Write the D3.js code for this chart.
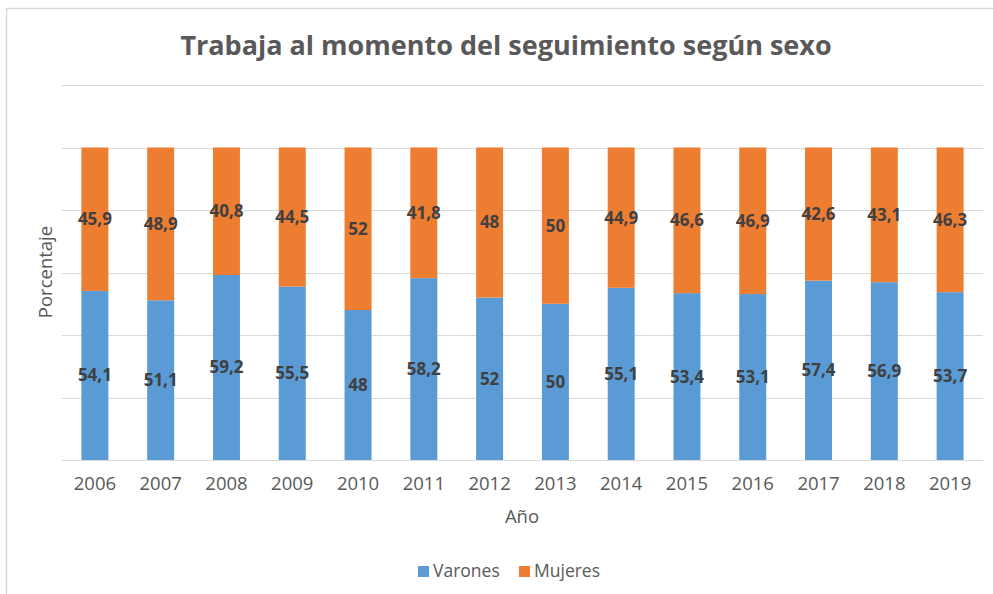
<!DOCTYPE html>
<html>
<head>
<meta charset="utf-8">
<script src="https://cdn.jsdelivr.net/npm/d3@7"></script>
<style>
  body { margin: 0; background: #fff; font-family: "Open Sans", sans-serif; }
</style>
</head>
<body>
<div id="chart"></div>
<script>
var years = ["2006", "2007", "2008", "2009", "2010", "2011", "2012", "2013", "2014", "2015", "2016", "2017", "2018", "2019"];
var varones = [54.1, 51.1, 59.2, 55.5, 48, 58.2, 52, 50, 55.1, 53.4, 53.1, 57.4, 56.9, 53.7];
var mujeres = [45.9, 48.9, 40.8, 44.5, 52, 41.8, 48, 50, 44.9, 46.6, 46.9, 42.6, 43.1, 46.3];
var seriesNames = ["Varones", "Mujeres"];
var gridTicks = [0, 20, 40, 60, 80, 100, 120];

var W = 993, H = 594;
var colors = ["#5b9bd5", "#ed7d31"];

var svg = d3.select("#chart").append("svg")
  .attr("width", W)
  .attr("height", H);

// chart frame
svg.append("rect")
  .attr("x", 6.5).attr("y", 8.5)
  .attr("width", W + 10).attr("height", H + 10)
  .attr("fill", "#fff")
  .attr("stroke", "#d9d9d9")
  .attr("stroke-width", 1.5);

var x = d3.scaleBand().domain(years).range([62, 983]).paddingInner(0.59).paddingOuter(0.295);
var y = d3.scaleLinear().domain([0, 120]).range([460, 85]);

// gridlines
svg.append("g")
  .selectAll("line")
  .data(gridTicks)
  .enter().append("line")
    .attr("x1", 62).attr("x2", 983)
    .attr("y1", function(d) { return Math.round(y(d)) + 0.5; })
    .attr("y2", function(d) { return Math.round(y(d)) + 0.5; })
    .attr("stroke", "#d9d9d9")
    .attr("stroke-width", 1);

var rows = years.map(function(yr, i) {
  return { year: yr, Varones: varones[i], Mujeres: mujeres[i] };
});
var stacked = d3.stack().keys(seriesNames)(rows);

var layer = svg.selectAll(".layer")
    .data(stacked)
  .enter().append("g")
    .attr("class", "layer")
    .attr("fill", function(d, i) { return colors[i]; });

layer.selectAll("rect")
    .data(function(d) { return d; })
  .enter().append("rect")
    .attr("x", function(d) { return x(d.data.year); })
    .attr("width", x.bandwidth())
    .attr("y", function(d) { return y(d[1]); })
    .attr("height", function(d) { return y(d[0]) - y(d[1]); });

// data labels
layer.selectAll("text")
    .data(function(d) { return d; })
  .enter().append("text")
    .attr("x", function(d) { return x(d.data.year) + x.bandwidth() / 2; })
    .attr("y", function(d) { return y((d[0] + d[1]) / 2); })
    .attr("dy", "0.35em")
    .attr("text-anchor", "middle")
    .attr("fill", "#404040")
    .style("font-size", "17px")
    .style("font-weight", "bold")
    .text(function(d) { return String(+(d[1] - d[0]).toFixed(1)).replace(".", ","); });

// x axis
var xAxis = svg.append("g")
  .attr("transform", "translate(0,460)")
  .call(d3.axisBottom(x).tickSize(0).tickPadding(17));
xAxis.select(".domain").remove();
xAxis.selectAll("text")
  .attr("fill", "#595959")
  .style("font-size", "18.5px")
  .style("font-family", "'Open Sans', sans-serif");

svg.append("text")
  .attr("x", 522).attr("y", 523)
  .attr("text-anchor", "middle")
  .attr("fill", "#595959")
  .style("font-size", "18.5px")
  .text("Año");

svg.append("text")
  .attr("transform", "translate(52,272) rotate(-90)")
  .attr("text-anchor", "middle")
  .attr("fill", "#595959")
  .style("font-size", "18.5px")
  .text("Porcentaje");

svg.append("text")
  .attr("x", 506).attr("y", 55)
  .attr("text-anchor", "middle")
  .attr("fill", "#595959")
  .style("font-size", "27px")
  .style("font-weight", "bold")
  .text("Trabaja al momento del seguimiento según sexo");

// legend
var legend = svg.selectAll(".legend")
    .data(seriesNames)
  .enter().append("g")
    .attr("class", "legend")
    .attr("transform", function(d, i) { return "translate(" + (418 + i * 101) + ",566)"; });

legend.append("rect")
  .attr("width", 11).attr("height", 11)
  .attr("fill", function(d, i) { return colors[i]; });

legend.append("text")
  .attr("x", 15).attr("y", 11)
  .attr("fill", "#595959")
  .style("font-size", "17.5px")
  .text(function(d) { return d; });
</script>
</body>
</html>
